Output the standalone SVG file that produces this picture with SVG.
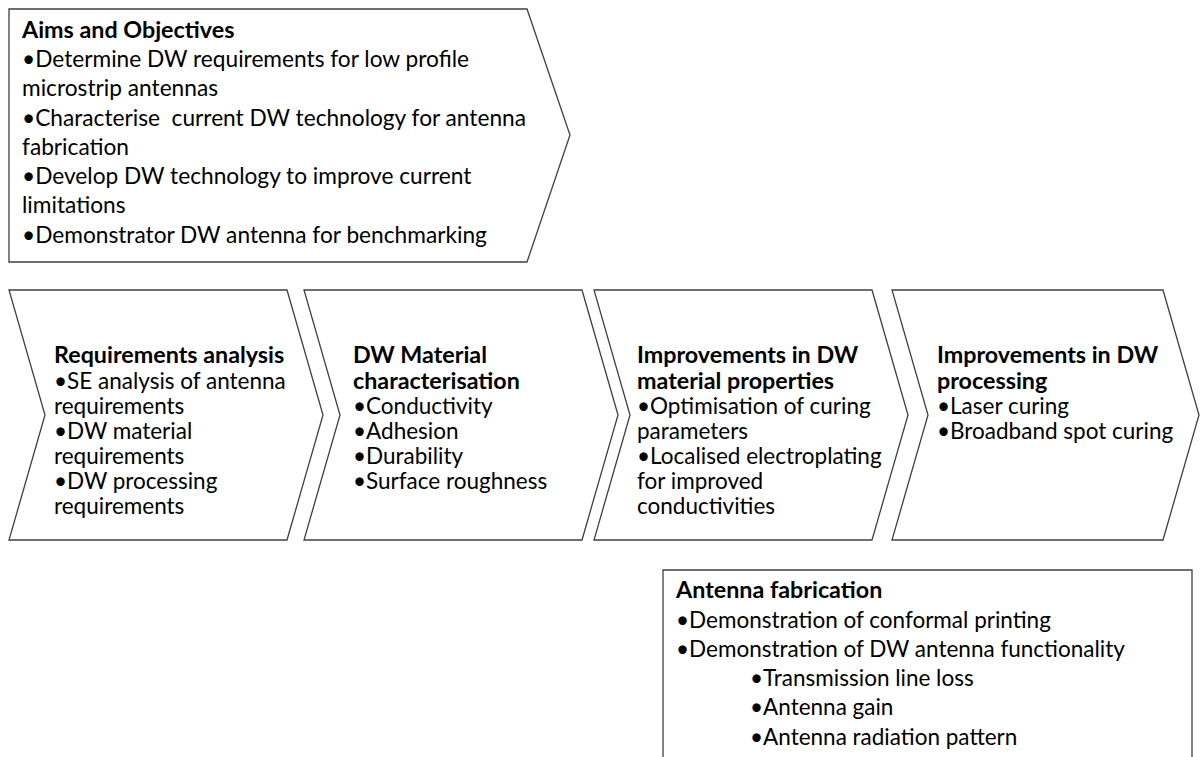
<svg xmlns="http://www.w3.org/2000/svg" width="1204" height="757" viewBox="0 0 1204 757">
<style>
.shape{fill:#ffffff;stroke:#404040;stroke-width:1.3}
.t{font-family:Lato,"Liberation Sans",sans-serif;font-size:22.7px;fill:#000000}
.r{font-family:Lato,"Liberation Sans",sans-serif;font-size:22.5px;fill:#000000}
.a{font-family:Lato,"Liberation Sans",sans-serif;font-size:22.5px;fill:#000000}
.b{font-weight:bold;font-size:23.3px}
</style>
<rect x="0" y="0" width="1204" height="757" fill="#ffffff"/>
<g id="aims">
<path class="shape" d="M9,9 L527,9 L570,135 L527,262 L9,262 Z"/>
<text class="t b" x="22" y="38">Aims and Objectives</text>
<text class="t" x="22" y="67">•Determine DW requirements for low profile</text>
<text class="t" x="22" y="96">microstrip antennas</text>
<text class="t" x="22" y="126" xml:space="preserve">•Characterise  current DW technology for antenna</text>
<text class="t" x="22" y="155">fabrication</text>
<text class="t" x="22" y="184">•Develop DW technology to improve current</text>
<text class="t" x="22" y="213">limitations</text>
<text class="t" x="22" y="243">•Demonstrator DW antenna for benchmarking</text>
</g>
<g id="requirements">
<path class="shape" d="M9,290 L287,290 L323,415 L287,540 L9,540 L45,415 Z"/>
<text class="r b" x="54" y="363">Requirements analysis</text>
<text class="r" x="54" y="389">•SE analysis of antenna</text>
<text class="r" x="54" y="414">requirements</text>
<text class="r" x="54" y="439">•DW material</text>
<text class="r" x="54" y="464">requirements</text>
<text class="r" x="54" y="489">•DW processing</text>
<text class="r" x="54" y="514">requirements</text>
</g>
<g id="material">
<path class="shape" d="M304,290 L582,290 L618,415 L582,540 L304,540 L340,415 Z"/>
<text class="r b" x="353" y="363">DW Material</text>
<text class="r b" x="353" y="389">characterisation</text>
<text class="r" x="353" y="414">•Conductivity</text>
<text class="r" x="353" y="439">•Adhesion</text>
<text class="r" x="353" y="464">•Durability</text>
<text class="r" x="353" y="489">•Surface roughness</text>
</g>
<g id="properties">
<path class="shape" d="M594,290 L872,290 L908,415 L872,540 L594,540 L630,415 Z"/>
<text class="r b" x="637" y="363">Improvements in DW</text>
<text class="r b" x="637" y="389">material properties</text>
<text class="r" x="637" y="414">•Optimisation of curing</text>
<text class="r" x="637" y="439">parameters</text>
<text class="r" x="637" y="464">•Localised electroplating</text>
<text class="r" x="637" y="489">for improved</text>
<text class="r" x="637" y="514">conductivities</text>
</g>
<g id="processing">
<path class="shape" d="M892,290 L1163,290 L1199,415 L1163,540 L892,540 L928,415 Z"/>
<text class="r b" x="937" y="363">Improvements in DW</text>
<text class="r b" x="937" y="389">processing</text>
<text class="r" x="937" y="414">•Laser curing</text>
<text class="r" x="937" y="439">•Broadband spot curing</text>
</g>
<g id="fabrication">
<path class="shape" d="M663,760 L663,570 L1192,570 L1192,760"/>
<text class="a b" x="676" y="598">Antenna fabrication</text>
<text class="a" x="676" y="628">•Demonstration of conformal printing</text>
<text class="a" x="676" y="657">•Demonstration of DW antenna functionality</text>
<text class="a" x="750" y="686">•Transmission line loss</text>
<text class="a" x="750" y="715">•Antenna gain</text>
<text class="a" x="750" y="745">•Antenna radiation pattern</text>
</g>
<g id="connectors"></g>
</svg>
